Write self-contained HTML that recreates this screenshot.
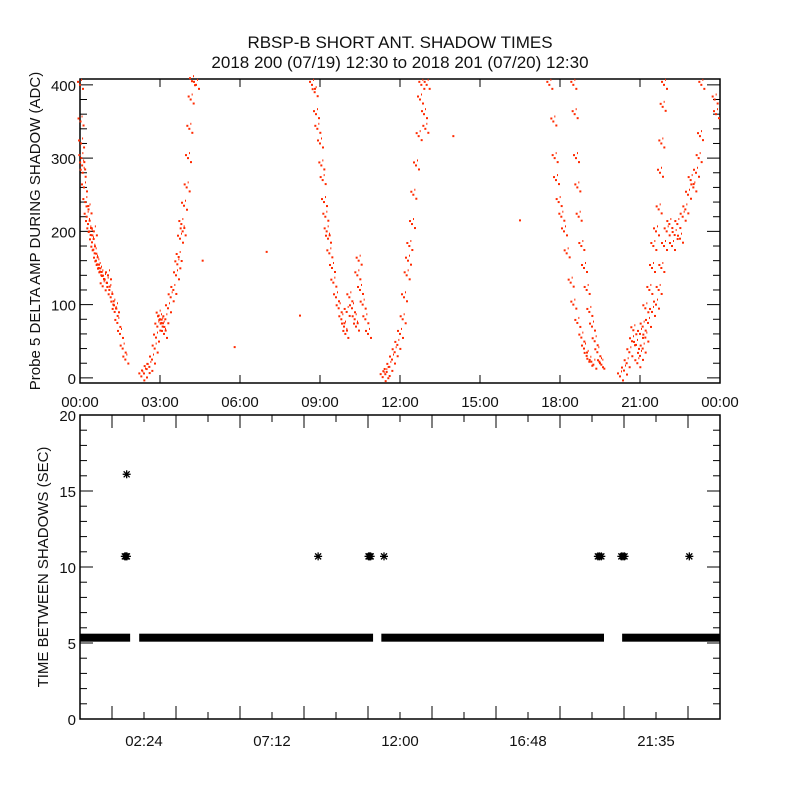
<!DOCTYPE html>
<html><head><meta charset="utf-8"><style>
body{margin:0;background:#fff}
svg{display:block}
text{font-family:"Liberation Sans",sans-serif;fill:#111}
</style></head><body>
<svg id="c" width="800" height="800" viewBox="0 0 800 800">
<text x="400" y="48" font-size="17" text-anchor="middle">RBSP-B SHORT ANT. SHADOW TIMES</text>
<text x="400" y="68" font-size="17" text-anchor="middle">2018 200 (07/19) 12:30 to 2018 201 (07/20) 12:30</text>
<g id="topPanel"></g>
<g id="botPanel"></g>
</svg>
<script>
// Top panel data: [hour, ADC]
const pass1=[[0,400],[0.02,350],[0.04,320],[0.05,300],[0.08,290],[0.1,280],[0.15,260],[0.2,240],[0.25,220],[0.3,210],[0.32,230],[0.35,200],[0.4,195],[0.45,185],[0.5,175],[0.52,200],[0.55,170],[0.6,160],[0.65,155],[0.7,150],[0.75,145],[0.8,140],[0.85,125],[0.9,135],[1.0,130],[1.05,140],[1.1,120],[1.15,110],[1.25,100],[1.3,90],[1.35,95],[1.4,75],[1.5,60],[1.6,40],[1.7,25]];
const pass2=[[2.3,2],[2.4,6],[2.5,12],[2.6,15],[2.7,25],[2.8,40],[2.85,55],[2.9,70],[2.95,85],[3.0,80],[3.05,75],[3.1,70],[3.15,60],[3.2,80],[3.3,95],[3.4,110],[3.5,120],[3.6,140],[3.65,155],[3.7,165],[3.75,190],[3.8,210],[3.85,200],[3.9,235],[4.0,260],[4.05,300],[4.1,340],[4.15,380],[4.2,405],[4.35,400]];
const pass3=[[8.7,400],[8.8,390],[8.85,360],[8.9,340],[9.0,320],[9.05,290],[9.1,270],[9.15,240],[9.2,220],[9.25,200],[9.3,190],[9.35,170],[9.45,150],[9.5,130],[9.6,110],[9.7,95],[9.8,80],[9.9,70],[9.95,60],[10.0,90],[10.1,110],[10.2,95],[10.3,80],[10.35,70],[10.4,140],[10.45,160],[10.5,120],[10.6,100],[10.7,80],[10.8,60]];
const pass4=[[11.35,1],[11.45,5],[11.5,8],[11.6,15],[11.7,25],[11.8,35],[11.9,45],[12.0,60],[12.1,80],[12.15,110],[12.25,140],[12.3,160],[12.35,180],[12.45,210],[12.5,250],[12.6,290],[12.7,330],[12.75,380],[12.8,400],[12.9,360],[12.95,340],[13.0,400]];
const pass5=[[17.6,400],[17.75,350],[17.8,300],[17.85,270],[17.95,240],[18.05,220],[18.15,200],[18.25,170],[18.4,130],[18.5,100],[18.65,75],[18.8,55],[18.9,40],[19.0,30],[19.1,22],[19.25,18],[18.5,400],[18.55,360],[18.6,300],[18.65,260],[18.7,220],[18.8,180],[18.9,150],[19.0,120],[19.1,90],[19.2,70],[19.3,50],[19.4,35],[19.5,20],[19.55,18]];
const pass6=[[20.25,2],[20.4,10],[20.5,20],[20.6,35],[20.7,50],[20.75,65],[20.85,45],[21.0,60],[21.1,70],[21.2,95],[21.35,120],[21.45,150],[21.5,180],[21.6,200],[21.7,230],[21.75,280],[21.8,320],[21.85,370],[21.9,400],[20.9,20],[21.0,30],[21.1,40],[21.2,55],[21.3,75],[21.45,90],[21.6,100],[21.7,120],[21.8,150],[21.9,180],[22.0,200],[22.1,210],[22.2,180],[22.3,195],[22.4,210],[22.5,190],[22.6,220],[22.7,230],[22.8,250],[22.9,270],[23.0,260],[23.1,280],[23.2,300],[23.25,330],[23.3,400],[23.8,380],[23.85,360]];
const strays=[[4.6,160],[5.8,42],[7.0,172],[8.25,85],[14.0,330],[16.5,215]];
const topYTicks=[0,100,200,300,400];
const topXLabels=["00:00","03:00","06:00","09:00","12:00","15:00","18:00","21:00","00:00"];
// Bottom panel data
const bandValue=5.35;
const bandSegments=[[0,1.88],[2.22,10.99],[11.3,19.65],[20.33,24]];
const outlierHours=[1.68,1.72,1.76,8.93,10.82,10.86,10.9,11.4,19.42,19.48,19.55,20.3,20.36,20.42,22.85];
const outlierValues=[10.7,10.7,10.7,10.7,10.7,10.7,10.7,10.7,10.7,10.7,10.7,10.7,10.7,10.7,10.7];
const spikeHours=[1.75];
const spikeValues=[16.1];
const botYTicks=[0,5,10,15,20];
const botXLabels=["02:24","07:12","12:00","16:48","21:35"];

const NS="http://www.w3.org/2000/svg";
function mk(p,t,a){const el=document.createElementNS(NS,t);for(const k in a)el.setAttribute(k,a[k]);p.appendChild(el);return el;}
const L=80,R=720;
const xT=h=>L+(R-L)*h/24;
// Top
const tT=79,tB=383,tMin=-7,tMax=408;
const yT=v=>tB-(v-tMin)/(tMax-tMin)*(tB-tT);
const topG=document.getElementById('topPanel');
let e=mk(topG,'rect',{x:L,y:tT,width:R-L,height:tB-tT,fill:'none',stroke:'#000','stroke-width':1.5});


for(let v=0;v<=400;v+=20){const M=v%100===0;const y=yT(v);
 mk(topG,'line',{x1:L,x2:L+(M?13:7),y1:y,y2:y,stroke:'#000'});
 mk(topG,'line',{x1:R,x2:R-(M?13:7),y1:y,y2:y,stroke:'#000'});}
topYTicks.forEach(v=>{e=mk(topG,'text',{x:L-4,y:yT(v)+6,'font-size':15,'text-anchor':'end'});e.textContent=v;
 
 });
topXLabels.forEach((s,i)=>{const x=xT(i*3);
 mk(topG,'line',{x1:x,x2:x,y1:tB,y2:tB-8,stroke:'#000'});mk(topG,'line',{x1:x,x2:x,y1:tT,y2:tT+8,stroke:'#000'});
 e=mk(topG,'text',{x:x,y:407,'font-size':15,'text-anchor':'middle'});e.textContent=s;
 
 });
e=mk(topG,'text',{x:0,y:0,'font-size':15,'text-anchor':'middle',transform:'translate(40,231) rotate(-90)'});
e.textContent='Probe 5 DELTA AMP DURING SHADOW (ADC)';


[pass1,pass2,pass3,pass4,pass5,pass6,strays].forEach((arr,k)=>{arr.forEach(p=>{
 const d=mk(topG,'rect',{x:xT(p[0])-1,y:yT(p[1])-1,width:2,height:2,fill:'#ff2a00'});
 
 
 if(k<6){
 const d2=mk(topG,'rect',{x:xT(p[0])+2,y:yT(p[1])+3,width:2,height:2,fill:'#ff2a00'});
 
 
 const d3=mk(topG,'rect',{x:xT(p[0])-3,y:yT(p[1])-4,width:2,height:2,fill:'#ff2a00'});
 
 
 const d4=mk(topG,'rect',{x:xT(p[0])+1,y:yT(p[1])-6,width:1,height:2,fill:'#ff2a00'});
 
 }
});});
// Bottom
const bT=415,bB=719,bMin=0,bMax=20;
const yB=v=>bB-(v-bMin)/(bMax-bMin)*(bB-bT);
const botG=document.getElementById('botPanel');
e=mk(botG,'rect',{x:L,y:bT,width:R-L,height:bB-bT,fill:'none',stroke:'#000','stroke-width':1.5});


for(let v=0;v<=20;v++){const M=v%5===0;const y=yB(v);
 mk(botG,'line',{x1:L,x2:L+(M?13:7),y1:y,y2:y,stroke:'#000'});
 mk(botG,'line',{x1:R,x2:R-(M?13:7),y1:y,y2:y,stroke:'#000'});}
botYTicks.forEach(v=>{e=mk(botG,'text',{x:L-4,y:yB(v)+6,'font-size':15,'text-anchor':'end'});e.textContent=v;
 
 });
for(let i=0;i<=20;i++){const x=xT(i*1.2);const M=i%2===1;
 mk(botG,'line',{x1:x,x2:x,y1:bB,y2:bB-(M?13:7),stroke:'#000'});mk(botG,'line',{x1:x,x2:x,y1:bT,y2:bT+(M?13:7),stroke:'#000'});}
botXLabels.forEach((s,i)=>{e=mk(botG,'text',{x:xT(2.4+i*4.8),y:746,'font-size':15,'text-anchor':'middle'});e.textContent=s;
 
 });
e=mk(botG,'text',{x:0,y:0,'font-size':15,'text-anchor':'middle',transform:'translate(48,567) rotate(-90)'});
e.textContent='TIME BETWEEN SHADOWS (SEC)';


function star(x,y){const g=mk(botG,'g',{stroke:'#000','stroke-width':1.3});
 mk(g,'line',{x1:x-4,x2:x+4,y1:y,y2:y});mk(g,'line',{x1:x,x2:x,y1:y-4,y2:y+4});
 mk(g,'line',{x1:x-3,x2:x+3,y1:y-3,y2:y+3});mk(g,'line',{x1:x-3,x2:x+3,y1:y+3,y2:y-3});return g;}
bandSegments.forEach(s=>{const y=yB(bandValue);
 const r=mk(botG,'rect',{x:xT(s[0]),y:y-4,width:xT(s[1])-xT(s[0]),height:8,fill:'#000'});
 
 });
outlierHours.forEach((h,i)=>{const g=star(xT(h),yB(outlierValues[i]));
 
 });
spikeHours.forEach((h,i)=>{const g=star(xT(h),yB(spikeValues[i]));
 
 });
</script>
</body></html>
